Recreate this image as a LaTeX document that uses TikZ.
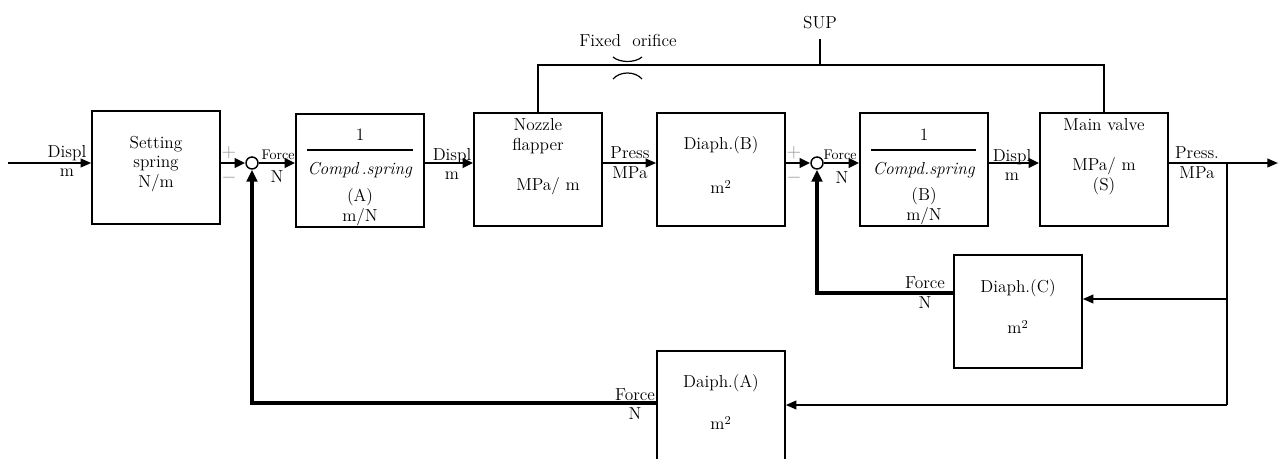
\documentclass[tikz,border=0pt]{standalone}
\usetikzlibrary{arrows.meta}
\tikzset{
  blk/.style={draw,line width=1.1pt,minimum width=96pt,minimum height=84.75pt,inner sep=0pt},
  sumpt/.style={draw,circle,line width=1.1pt,minimum size=9pt,inner sep=0pt,fill=white},
  sig/.style={line width=1.4pt,-{Triangle[length=8pt,width=6.5pt]}},
  mid/.style={line width=2.2pt,-{Triangle[length=8pt,width=7pt]}},
  fb/.style={line width=3pt,-{Triangle[length=9pt,width=8pt]}},
  txt/.style={inner sep=0.75pt,align=center,font=\fontsize{13}{14.75}\selectfont},
  sml/.style={inner sep=0.75pt,font=\fontsize{10.5}{12}\selectfont},
  sgn/.style={inner sep=0pt,text=gray!85,font=\fontsize{14}{14}\selectfont},
}
\begin{document}
\begin{tikzpicture}[x=0.75pt,y=0.75pt,yscale=-1,xscale=1]
\useasboundingbox (0,0) rectangle (1280,459);
% blocks
\node [blk] (spring) at (156,167.5) {};
\node [blk] (compA) at (360,170.5) {};
\node [blk] (nozzle) at (538,169.5) {};
\node [blk] (diaphB) at (721,169.5) {};
\node [blk] (compB) at (924,169.5) {};
\node [blk] (main) at (1104,169.5) {};
\node [blk] (diaphC) at (1018,311.5) {};
\node [blk] (daiphA) at (721,407.5) {};
\node [sumpt] (sumA) at (252,163) {};
\node [sumpt] (sumB) at (817,163) {};
% block texts
\node [txt] (springTxt) at (156,164) {Setting\\spring\\N/m};
\node [txt] (compAone) at (360,135) {1};
\draw [line width=0.8pt] (307,150) -- (413,150);
\node [txt] (compAname) at (360,170) {\textit{Compd\,.spring}};
\node [txt] (compAunit) at (360,207) {(A)\\m/N};
\node [txt] (nozzleTxt) at (538,136) {Nozzle\\flapper};
\node [txt] (nozzleUnit) at (548,186) {MPa/ m};
\node [txt] (diaphBTxt) at (721,145) {Diaph.(B)};
\node [txt] (diaphBUnit) at (721,187) {m\textsuperscript{2}};
\node [txt] (compBone) at (924,135) {1};
\draw [line width=0.8pt] (871,150) -- (976,150);
\node [txt] (compBname) at (924,170) {\textit{Compd.spring}};
\node [txt] (compBunit) at (924,206.5) {(B)\\m/N};
\node [txt] (mainTxt) at (1104,125) {Main valve};
\node [txt] (mainUnit) at (1104,176) {MPa/ m\\(S)};
\node [txt] (diaphCTxt) at (1018,288) {Diaph.(C)};
\node [txt] (diaphCUnit) at (1018,327) {m\textsuperscript{2}};
\node [txt] (daiphATxt) at (721,383) {Daiph.(A)};
\node [txt] (daiphAUnit) at (721,423) {m\textsuperscript{2}};
% signal labels
\node [txt] (inLbl) at (67,161) {Displ\\m};
\node [sgn] (plusA) at (229,153) {$+$};
\node [sgn] (minusA) at (229,178) {$-$};
\node [sml] (forceA) at (278,155) {Force};
\node [txt] (nA) at (277,177) {N};
\node [txt] (displA) at (452,164) {Displ\\m};
\node [txt] (pressLbl) at (630,163) {Press\\MPa};
\node [sgn] (plusB) at (794,153) {$+$};
\node [sgn] (minusB) at (794,178) {$-$};
\node [sml] (forceB) at (840,155) {Force};
\node [txt] (nB) at (842,178) {N};
\node [txt] (displB) at (1012,165) {Displ\\m};
\node [txt] (outLbl) at (1197,163) {Press.\\MPa};
\node [txt] (forceC) at (925,292.5) {Force\\N};
\node [txt] (forceD) at (635,404) {Force\\N};
\node [txt] (supLbl) at (820,23) {SUP};
\node [txt] (orificeLbl) at (628,40) {Fixed\ \ orifice};
% points
\coordinate (in) at (8,163);
\coordinate (split) at (1227,163);
\coordinate (out) at (1278,163);
\coordinate (tapC) at (1227,299);
\coordinate (tapA) at (1227,405);
\coordinate (fbC) at (954,293);
\coordinate (fbA) at (657,403);
\coordinate (supTap) at (820,65);
% forward path
\draw [sig] (in) -- (spring.west |- in);
\draw [mid] (spring.east |- sumA) -- (sumA.west);
\draw [mid] (sumA.east) -- (compA.west |- sumA);
\draw [mid] (compA.east |- sumA) -- (nozzle.west |- sumA);
\draw [sig] (nozzle.east |- sumA) -- (diaphB.west |- sumA);
\draw [mid] (diaphB.east |- sumB) -- (sumB.west);
\draw [mid] (sumB.east) -- (compB.west |- sumB);
\draw [mid] (compB.east |- sumB) -- (main.west |- sumB);
\draw [sig] (main.east |- split) -- (out);
% feedback paths
\draw [line width=1.4pt] (split) -- (tapA);
\draw [sig] (tapC) -- (diaphC.east |- tapC);
\draw [sig] (tapA) -- (daiphA.east |- tapA);
\draw [fb] (fbC) -| (sumB.south);
\draw [fb] (fbA) -| (sumA.south);
% supply line and orifice
\draw [line width=0.9pt] (nozzle.north) |- (supTap) -| (main.north);
\draw [line width=0.9pt] (supTap) -- ++(0,-26);
\draw [line width=0.9pt] (613,57) .. controls (620,63) and (635,63) .. (642,57);
\draw [line width=0.9pt] (613,79) .. controls (620,71) and (635,71) .. (642,79);
\end{tikzpicture}
\end{document}
